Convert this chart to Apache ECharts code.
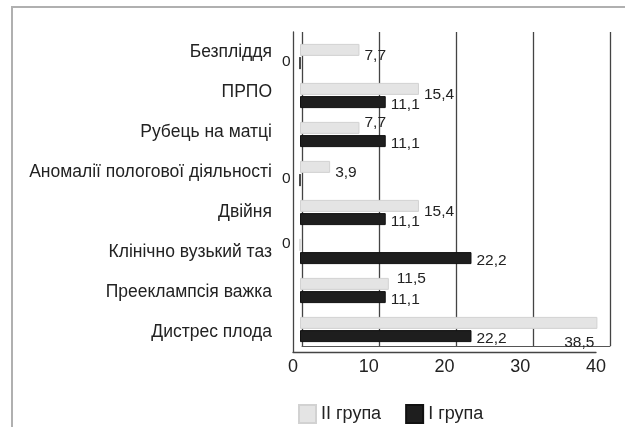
<!DOCTYPE html>
<html><head><meta charset="utf-8">
<script src="https://cdn.jsdelivr.net/npm/echarts@6/dist/echarts.min.js"></script>
<style>html,body{margin:0;padding:0;background:#fff}#c{width:625px;height:427px}</style>
</head><body><div id="c"></div>
<script>
const categories = ['Безпліддя','ПРПО','Рубець на матці','Аномалії пологової діяльності','Двійня','Клінічно вузький таз','Прееклампсія важка','Дистрес плода'];
const group2 = [7.7, 15.4, 7.7, 3.9, 15.4, 0, 11.5, 38.5];   // II група
const group1 = [0, 11.1, 11.1, 0, 11.1, 22.2, 11.1, 22.2];   // I група
const xTicks = [0, 10, 20, 30, 40];
const seriesNames = ['II група', 'I група'];

const FONT = '"Liberation Sans", Arial, sans-serif';
const fmt = v => String(v).replace('.', ',');

function items(vals, dy, special) {
  return vals.map((v, i) => {
    const it = {value: v};
    if (v === 0) {
      it.label = {position: 'left', distance: 9, offset: [0, -1]};
    } else if (special && special[i]) {
      it.label = special[i];
    } else {
      it.label = {position: 'right', distance: 5, offset: [0, dy]};
    }
    return it;
  });
}
const g2Special = {
  2: {position: 'right', distance: 5, offset: [0, -5]},
  6: {position: 'right', distance: 8, offset: [0, -5]},
  7: {position: 'insideRight', distance: 3, offset: [0, 20]}
};

const chart = echarts.init(document.getElementById('c'), null, {renderer: 'canvas'});
chart.setOption({
  animation: false,
  backgroundColor: '#ffffff',
  textStyle: {fontFamily: FONT},
  graphic: [{
    type: 'rect', shape: {x: 12, y: 7, width: 660, height: 460},
    style: {fill: 'none', stroke: '#b0b0b0', lineWidth: 2}, silent: true
  }],
  legend: {
    data: seriesNames, left: 293, top: 399, icon: 'rect',
    itemWidth: 17, itemHeight: 18, itemGap: 24,
    textStyle: {fontSize: 18, color: '#222', fontFamily: FONT}
  },
  grid: [
    {left: 302, top: 32, width: 308, height: 314},   // back wall
    {left: 293, top: 32, width: 303, height: 320},   // front edges + labels
    {left: 300, top: 37, width: 309, height: 312}    // bars
  ],
  xAxis: [
    {gridIndex: 0, type: 'value', min: 0, max: 40, interval: 10,
     axisLabel: {show: false}, axisTick: {show: false},
     axisLine: {show: true, lineStyle: {color: '#555', width: 1}},
     splitLine: {show: true, lineStyle: {color: '#444', width: 1.3}}},
    {gridIndex: 1, type: 'value', min: 0, max: 40, interval: 10,
     axisLabel: {show: true, fontSize: 18, color: '#222', margin: 6, fontFamily: FONT,
                 formatter: v => xTicks.includes(v) ? String(v) : ''},
     axisTick: {show: false},
     axisLine: {show: true, lineStyle: {color: '#444', width: 1.3}},
     splitLine: {show: false}},
    {gridIndex: 2, type: 'value', min: 0, max: 40, show: false, splitLine: {show: false}}
  ],
  yAxis: [
    {gridIndex: 0, type: 'category', data: categories, inverse: true, show: false},
    {gridIndex: 1, type: 'category', data: categories, inverse: true,
     axisTick: {show: false},
     axisLine: {show: true, lineStyle: {color: '#444', width: 1.3}},
     axisLabel: {fontSize: 17.5, color: '#222', margin: 21, fontFamily: FONT}},
    {gridIndex: 2, type: 'category', data: categories, inverse: true, show: false}
  ],
  series: [
    {name: seriesNames[0], type: 'bar', xAxisIndex: 2, yAxisIndex: 2,
     barWidth: 12, barGap: '10%',
     itemStyle: {color: '#e4e4e4', borderColor: '#d2d2d2', borderWidth: 1},
     label: {show: true, fontSize: 15.5, color: '#222', fontFamily: FONT,
             formatter: p => fmt(p.value)},
     data: items(group2, 6, g2Special)},
    {name: seriesNames[1], type: 'bar', xAxisIndex: 2, yAxisIndex: 2,
     barWidth: 12, barGap: '10%',
     itemStyle: {color: '#1e1e1e', borderColor: '#111', borderWidth: 1},
     label: {show: true, fontSize: 15.5, color: '#222', fontFamily: FONT,
             formatter: p => fmt(p.value)},
     data: items(group1, 3, null)}
  ]
});
</script></body></html>
